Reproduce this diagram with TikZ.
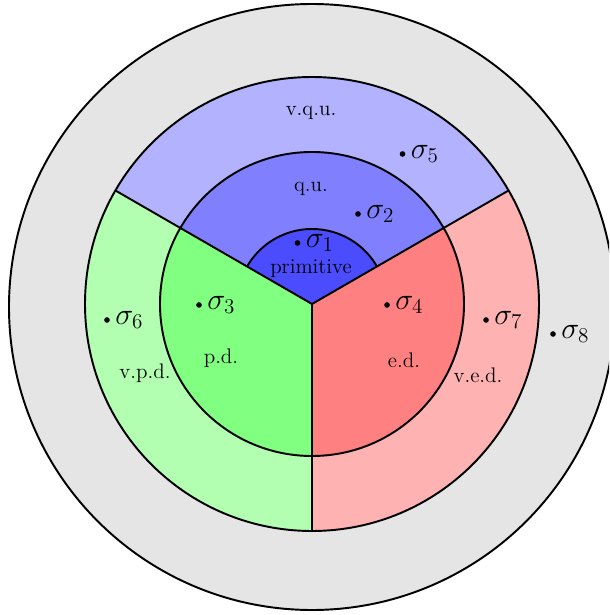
\documentclass[tikz,border=0pt]{standalone}
\usepackage{tikz}
\usetikzlibrary{positioning,calc}
\newcommand*{\sig}[1]{\fontsize{16.5}{19}\selectfont$\sigma_{#1}$}
\newcommand*{\cls}[1]{\fontsize{12}{14}\selectfont #1}

\begin{document}
\begin{tikzpicture}[line width=1.1pt,
  dot/.style={circle,fill=black,inner sep=0pt,minimum size=3.2pt,
    label={[label distance=1pt,inner sep=1pt]right:{#1}}},
  sector/.style={fill=#1}]
% Picture frame, the gray ring is cut off on the right
\clip (-6.24,-6.22) rectangle (5.94,6.08);
% Radii of the rings
\def\ra{1.5}
\def\rb{3.04}
\def\rc{4.54}
\def\rd{6.06}
\coordinate (o) at (0,0);
\coordinate (oo) at (0,-0.06);
% Outer gray disc
\fill[gray!20] (oo) circle (\rd);
% Three sectors: blue on top, green left, red right
\fill[sector=blue!30] (o) -- (30:\rc) arc (30:150:\rc) -- cycle;
\fill[sector=green!30] (o) -- (150:\rc) arc (150:270:\rc) -- cycle;
\fill[sector=red!30] (o) -- (270:\rc) arc (270:390:\rc) -- cycle;
\fill[sector=blue!50] (o) -- (30:\rb) arc (30:150:\rb) -- cycle;
\fill[sector=green!50] (o) -- (150:\rb) arc (150:270:\rb) -- cycle;
\fill[sector=red!50] (o) -- (270:\rb) arc (270:390:\rb) -- cycle;
\fill[sector=blue!70] (o) -- (30:\ra) arc (30:150:\ra) -- cycle;
% Outlines
\draw (oo) circle (\rd);
\draw (o) circle (\rc);
\draw (o) circle (\rb);
\draw (30:\ra) arc (30:150:\ra);
\foreach \a in {30,150,270}
  \draw (o) -- (\a:\rc);
% Class names
\node at (-0.02,0.71) {\cls{primitive}};
\node at (-0.02,2.30) {\cls{q.u.}};
\node at (-0.02,3.82) {\cls{v.q.u.}};
\node at (-1.82,-1.08) {\cls{p.d.}};
\node at (1.84,-1.12) {\cls{e.d.}};
\node at (-3.34,-1.38) {\cls{v.p.d.}};
\node at (3.32,-1.42) {\cls{v.e.d.}};
% Sample points
\node[dot=\sig{1}] (s1) at (-0.29,1.22) {};
\node[dot=\sig{2}] (s2) at (0.92,1.80) {};
\node[dot=\sig{3}] (s3) at (-2.26,-0.02) {};
\node[dot=\sig{4}] (s4) at (1.50,-0.02) {};
\node[dot=\sig{5}] (s5) at (1.81,3.00) {};
\node[dot=\sig{6}] (s6) at (-4.10,-0.32) {};
\node[dot=\sig{7}] (s7) at (3.48,-0.32) {};
\node[dot=\sig{8}] (s8) at (4.82,-0.60) {};
\end{tikzpicture}
\end{document}
